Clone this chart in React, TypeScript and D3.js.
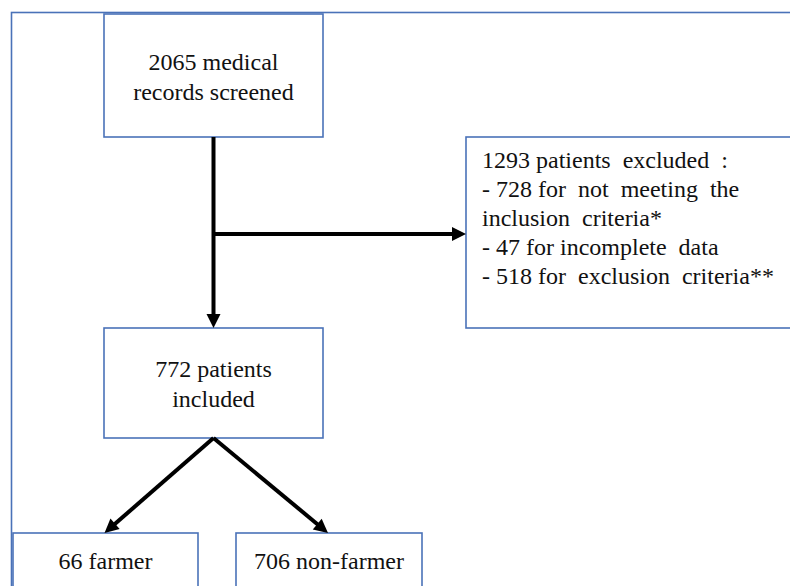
import React from "react";
import * as d3 from "d3";

// flowchart content
const screenedLines = ["2065 medical", "records screened"];
const excludedLines = [
  "1293 patients  excluded  :",
  "- 728 for  not  meeting  the",
  "inclusion  criteria*",
  "- 47 for incomplete  data",
  "- 518 for  exclusion  criteria**",
];
const includedLines = ["772 patients", "included"];
const groupLabels = ["66 farmer", "706 non-farmer"];

const BLUE = "#4a72b8";

const topBox = { x: 104, y: 14, w: 219, h: 123 };
const exBox = { x: 466, y: 137, w: 340, h: 191 };
const inBox = { x: 104, y: 328, w: 219, h: 110 };
const groupBoxes = [
  { x: 13, y: 533, w: 185, h: 80 },
  { x: 236, y: 533, w: 186, h: 80 },
];

const App: React.FC = () => {
  const width = 790, height = 586;
  const line = d3.line();
  const cx = topBox.x + topBox.w / 2;
  const branchY = 234;

  // shorten the shaft so the butt end hides under the arrow head
  const head = 14;
  const shorten = (a: [number, number], b: [number, number]): [number, number][] => {
    const dx = b[0] - a[0], dy = b[1] - a[1];
    const len = Math.hypot(dx, dy);
    return [a, [b[0] - (dx / len) * (head - 3), b[1] - (dy / len) * (head - 3)]];
  };

  const arrows: [number, number][][] = [
    [[cx, topBox.y + topBox.h], [cx, inBox.y]],
    [[cx, branchY], [exBox.x, branchY]],
    [[cx, inBox.y + inBox.h], [groupBoxes[0].x + groupBoxes[0].w / 2 - 1, groupBoxes[0].y]],
    [[cx, inBox.y + inBox.h], [groupBoxes[1].x + groupBoxes[1].w / 2 - 1, groupBoxes[1].y]],
  ];

  const items: { t: string; x: number; y: number; a: string }[] = [
    ...screenedLines.map((t, i) => ({ t, x: cx, y: 70 + i * 30, a: "middle" })),
    ...includedLines.map((t, i) => ({ t, x: cx, y: 377 + i * 30, a: "middle" })),
    ...excludedLines.map((t, i) => ({ t, x: 482, y: 168 + i * 29, a: "start" })),
    ...groupLabels.map((t, i) => ({ t, x: groupBoxes[i].x + groupBoxes[i].w / 2, y: 569, a: "middle" })),
  ];

  const box = (b: { x: number; y: number; w: number; h: number }, key: string) => (
    <rect key={key} x={b.x} y={b.y} width={b.w} height={b.h} fill="#fff" stroke={BLUE} strokeWidth={1.6} />
  );

  return (
    <svg width={width} height={height} fontFamily="Times New Roman"
      style={{ position: "absolute", left: 0, top: 0, background: "#fff" }}>
      <rect x={11.5} y={12.5} width={800} height={600} fill="none" stroke={BLUE} strokeWidth={1.6} />
      {box(topBox, "top")}
      {box(exBox, "ex")}
      {box(inBox, "in")}
      {groupBoxes.map((b, i) => box(b, "g" + i))}
      {arrows.map((a, i) => {
        const [p, q] = [a[0], a[1]];
        const ang = Math.atan2(q[1] - p[1], q[0] - p[0]) * 180 / Math.PI;
        return (
          <g key={i}>
            <path d={line(shorten(p, q)) || ""} stroke="#000" strokeWidth={4} fill="none" />
            <path d={`M0,0 L${-head},${-7} L${-head},${7} Z`} fill="#000"
              transform={`translate(${q[0]},${q[1]}) rotate(${ang})`} />
          </g>
        );
      })}
      {items.map((d, i) => (
        <text key={i} x={d.x} y={d.y} textAnchor={d.a} fontFamily="Times New Roman" fontSize={24}
          fill="#111" xmlSpace="preserve">{d.t}</text>
      ))}
    </svg>
  );
};

export default App;
